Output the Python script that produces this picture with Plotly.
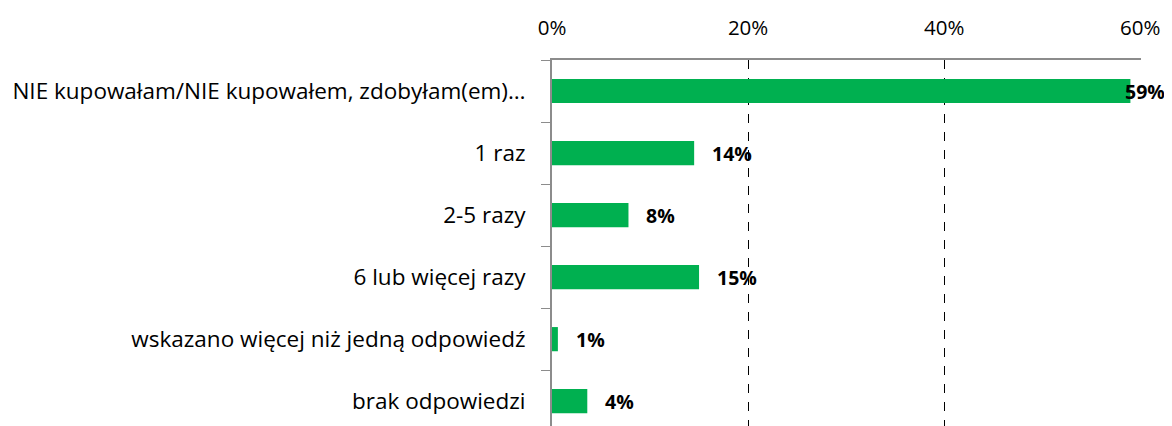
import plotly.graph_objects as go

categories = [
    "NIE kupowałam/NIE kupowałem, zdobyłam(em)…",
    "1 raz",
    "2-5 razy",
    "6 lub więcej razy",
    "wskazano więcej niż jedną odpowiedź",
    "brak odpowiedzi",
]
values = [59.0, 14.5, 7.8, 15.0, 0.6, 3.6]
labels = ["59%", "14%", "8%", "15%", "1%", "4%"]
x_ticks = [0, 20, 40, 60]
x_tick_labels = ["0%", "20%", "40%", "60%"]

GREEN = "#00B050"
GRAY = "#8C8C8C"
FONT = "Open Sans"

fig = go.Figure()
fig.add_trace(go.Bar(
    y=categories, x=values, orientation="h",
    marker=dict(color=GREEN, line=dict(width=0)),
    width=0.39, hoverinfo="skip",
))

annotations = []
for cat, v, lab in zip(categories, values, labels):
    annotations.append(dict(
        x=v, y=cat, xref="x", yref="y", text=f"<b>{lab}</b>",
        showarrow=False, xanchor="left", yanchor="middle",
        xshift=-7 if v > 55 else 16, yshift=0,
        font=dict(family=FONT, size=19.5, color="black"),
    ))

fig.update_layout(
    width=1172, height=426,
    margin=dict(l=544, r=39, t=52, b=8),
    paper_bgcolor="white", plot_bgcolor="white",
    showlegend=False,
    annotations=annotations,
    font=dict(family=FONT, color="black"),
    xaxis=dict(
        side="top", range=[0, 60.08], tickvals=x_ticks, ticktext=x_tick_labels,
        tickfont=dict(family=FONT, size=20.5, color="black"),
        showgrid=True, gridcolor="black", griddash="dash", gridwidth=1,
        zeroline=False, showline=True, linecolor=GRAY, linewidth=2,
        ticks="", ticklabelstandoff=15, automargin=False,
    ),
    yaxis=dict(
        categoryorder="array", categoryarray=categories,
        range=[5.4, -0.5],
        tickfont=dict(family=FONT, size=22.5, color="black"),
        showline=True, linecolor=GRAY, linewidth=2,
        ticks="outside", tickson="boundaries", ticklen=9, tickcolor=GRAY, tickwidth=1,
        showgrid=False, zeroline=False, ticklabelstandoff=20, automargin=False,
    ),
)

fig.write_html("out.html")
